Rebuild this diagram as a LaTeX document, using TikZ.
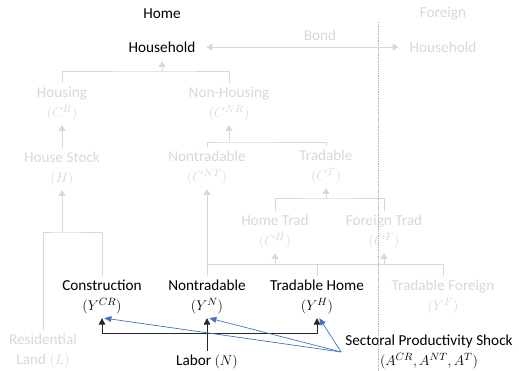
\documentclass[tikz,border=0pt]{standalone}
\usepackage{fontspec}
\setmainfont{Carlito}
\usetikzlibrary{arrows.meta}
\definecolor{fade}{RGB}{216,216,216}
\definecolor{shockblue}{RGB}{68,114,196}
\begin{document}
\begin{tikzpicture}[x=0.03cm,y=-0.03cm,
    lbl/.style={align=center,font=\fontsize{13}{17}\selectfont},
    dim/.style={lbl,text=fade},
    gline/.style={draw=fade,line width=0.8pt},
    garrow/.style={gline,-{Triangle[width=6pt,length=5pt]}},
    barrow/.style={draw=black!85,line width=0.7pt,-{Triangle[width=5.5pt,length=5.5pt]}},
    blarrow/.style={draw=shockblue,line width=0.6pt,-{Triangle[width=5pt,length=6pt]}}]
  \useasboundingbox (0,0) rectangle (519,371);
  % top row
  \node[lbl] (home) at (162,14) {Home};
  \node[lbl] (hh) at (162,47) {Household};
  \node[dim] (frgn) at (443,14) {Foreign};
  \node[dim] (hhf) at (443,47) {Household};
  \node[dim] (bond) at (320,35) {Bond};
  % consumption tree
  \node[dim] (hous) at (62,104) {Housing\\$(C^{R})$};
  \node[dim] (nonh) at (229,104) {Non-Housing\\$(C^{NR})$};
  \node[dim] (hstock) at (62,169) {House Stock\\$(H)$};
  \node[dim] (ntc) at (207,168) {Nontradable\\$(C^{NT})$};
  \node[dim] (trc) at (326,167) {Tradable\\$(C^{T})$};
  \node[dim] (hmt) at (275,232) {Home Trad\\$(C^{H})$};
  \node[dim] (frt) at (384,232) {Foreign Trad\\$(C^{F})$};
  % production
  \node[lbl] (ycr) at (102,297) {Construction\\$(Y^{CR})$};
  \node[lbl] (yn) at (207,297) {Nontradable\\$(Y^{N})$};
  \node[lbl] (yh) at (317,297) {Tradable Home\\$(Y^{H})$};
  \node[dim] (yf) at (443,297) {Tradable Foreign\\$(Y^{F})$};
  \node[dim] (land) at (43,351) {Residential\\Land $(L)$};
  \node[lbl] (labor) at (207,362) {Labor $(N)$};
  \node[lbl] (sps) at (429,352) {Sectoral Productivity Shock\\$(A^{CR},A^{NT},A^{T})$};
  % junctions
  \coordinate (hhj) at (162,71);
  \coordinate (nhj) at (229,142);
  \coordinate (hsj) at (62,232);
  \coordinate (trj) at (326,198);
  \coordinate (tj) at (207,264);
  \coordinate (lj) at (207,333);
  % home/foreign border
  \draw[fade!80!black,densely dotted,line width=0.5pt] (378,22) -- (378,371);
  \draw[gline,{Triangle[width=6pt,length=5pt]}-{Triangle[width=6pt,length=5pt]},shorten <=6pt,shorten >=6pt] (hh) -- (hhf);
  \draw[gline] (hous) |- (hhj) -| (nonh);
  \draw[garrow,shorten >=4pt] (hhj) -- (hh);
  \draw[garrow] (hstock) -- (hous);
  \draw[gline] (ntc) |- (nhj) -| (trc);
  \draw[garrow] (nhj) -- (nonh);
  \draw[gline] (land) |- (hsj) -| (ycr);
  \draw[garrow] (hsj) -- (hstock);
  \draw[gline] (hmt) |- (trj) -| (frt);
  \draw[garrow] (trj) -- (trc);
  \draw[gline] (yn.north) -- (tj) -| (yf.north);
  \draw[gline] (yh.north) -- (yh.north |- tj);
  \draw[garrow] (tj) -- (ntc);
  \draw[garrow] (hmt.south |- tj) -- (hmt);
  \draw[garrow] (frt.south |- tj) -- (frt);
  % labor and shocks
  \draw[barrow] (labor) -- (yn);
  \draw[barrow] (lj) -| (ycr);
  \draw[barrow] (lj) -| (yh);
  \draw[blarrow] (sps.west) -- ([xshift=2pt]ycr.south);
  \draw[blarrow] (sps.west) -- ([xshift=2pt]yn.south);
  \draw[blarrow] (sps.west) -- ([xshift=2pt]yh.south);
\end{tikzpicture}
\end{document}
